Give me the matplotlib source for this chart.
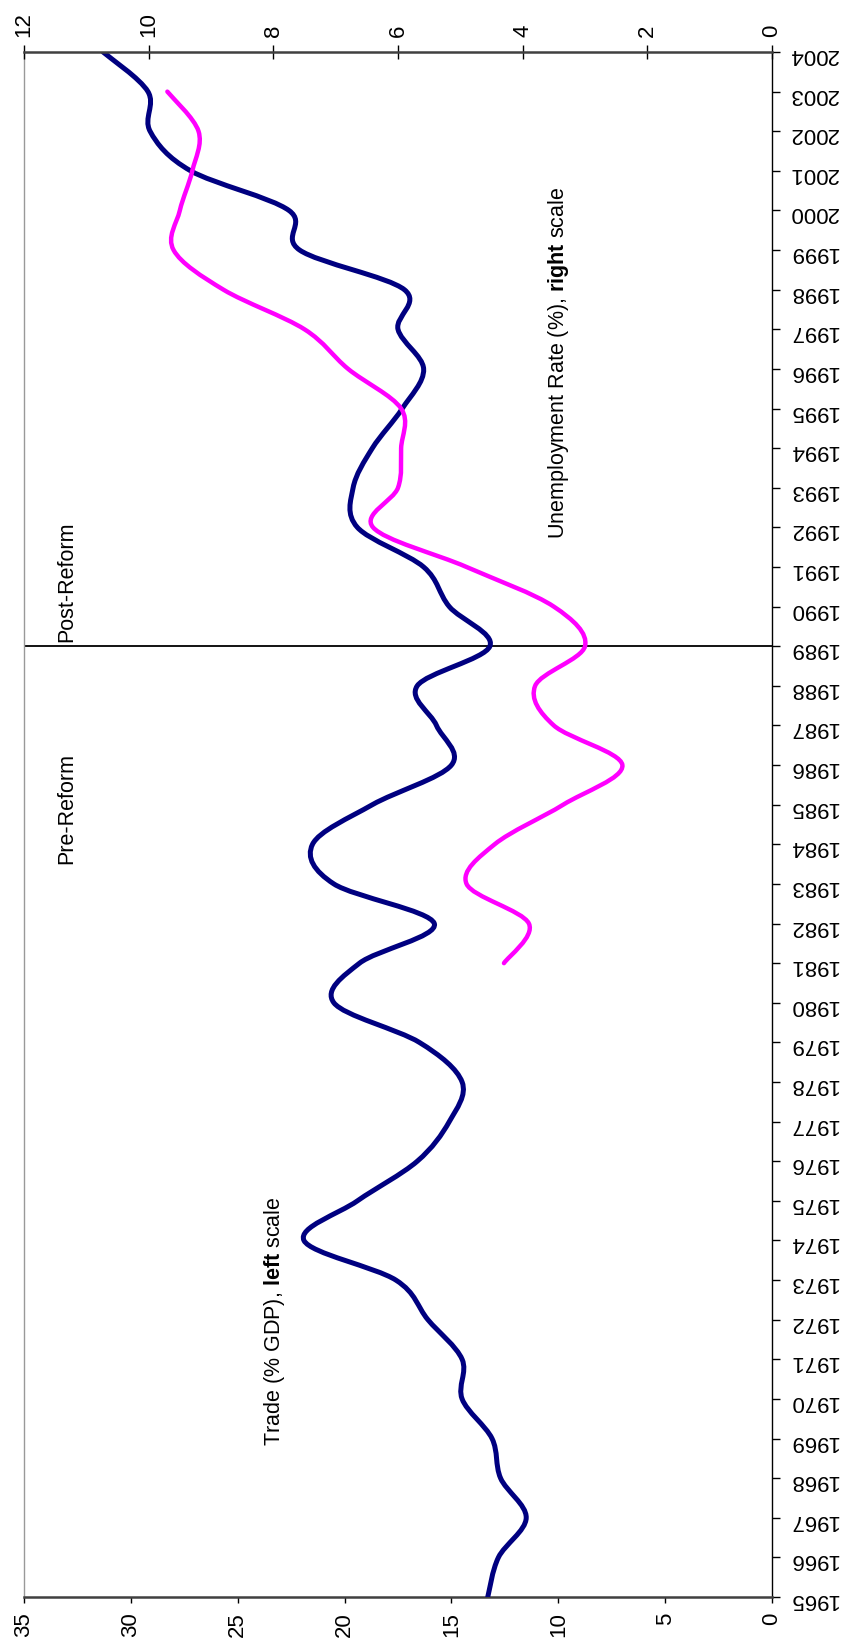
import numpy as np
import matplotlib
matplotlib.use("Agg")
import matplotlib.pyplot as plt
from matplotlib.path import Path
from matplotlib.patches import PathPatch

plt.rcParams.update({"font.family": "Liberation Sans", "font.size": 16,
    "mathtext.fontset": "custom", "mathtext.rm": "Liberation Sans",
    "mathtext.bf": "Liberation Sans:bold"})

# trade (% of GDP), left scale, 1965-2004
YEARS = list(range(1965, 2005))
TRADE = [13.3, 12.8, 11.5, 12.7, 13.1, 14.5, 14.5, 16.1, 17.6, 21.9,
         19.4, 16.6, 15.1, 14.5, 16.5, 20.5, 19.3, 15.8, 20.5, 21.5,
         18.7, 15.0, 15.7, 16.6, 13.2, 15.1, 16.3, 19.4, 19.6, 18.7,
         17.3, 16.3, 17.5, 17.2, 22.1, 22.6, 27.2, 29.1, 29.2, 31.3]
# unemployment rate (%), right scale, 1981-2003
UNEMP_YEARS = list(range(1981, 2004))
UNEMP = [4.3, 3.9, 4.9, 4.45, 3.35, 2.4, 3.5, 3.8, 3.0, 3.5, 4.9, 6.4,
         6.0, 5.95, 5.95, 6.8, 7.5, 8.8, 9.6, 9.5, 9.3, 9.2, 9.7]
REFORM_YEAR = 1989

TRADE_TICKS = list(range(0, 36, 5))
UNEMP_TICKS = list(range(0, 13, 2))


def smooth(xs, ys):
    # Excel-style smoothed line: Catmull-Rom segments as cubic Beziers
    p = np.column_stack([xs, ys]).astype(float)
    ext = np.vstack([p[0], p, p[-1]])
    verts, codes = [p[0]], [Path.MOVETO]
    for i in range(len(p) - 1):
        a, b, c, d = ext[i], ext[i + 1], ext[i + 2], ext[i + 3]
        verts += [b + (c - a) / 6, c - (d - b) / 6, c]
        codes += [Path.CURVE4] * 3
    return Path(verts, codes)


fig = plt.figure(figsize=(8.45, 16.51), dpi=100)
ax = fig.add_axes([0.0284, 0.0327, 0.8852, 0.9358])
ax2 = ax.twiny()

ax.axhline(REFORM_YEAR, color="black", lw=1.3, zorder=1)
ax.add_patch(PathPatch(smooth(TRADE, YEARS), fill=False, edgecolor="#000080",
                       lw=3.6, joinstyle="round", capstyle="round", zorder=3))
ax2.add_patch(PathPatch(smooth(UNEMP, UNEMP_YEARS), fill=False, edgecolor="#FF00FF",
                        lw=3.2, joinstyle="round", capstyle="round", zorder=3))

ax.set_xlim(35, 0)
ax.set_ylim(1965, 2004)
ax2.set_xlim(12, 0)

ax.set_xticks(TRADE_TICKS)
ax.tick_params(axis="x", direction="out", length=4, width=1, pad=7, labelrotation=90)
ax2.set_xticks(UNEMP_TICKS)
ax2.tick_params(axis="x", direction="inout", length=10, width=1, pad=6, labelrotation=90)

ax.yaxis.tick_right()
ax.set_yticks(YEARS)
ax.tick_params(axis="y", direction="out", length=6, width=1, pad=6, labelrotation=180)

for s in ["top", "bottom", "left", "right"]:
    ax2.spines[s].set_visible(False)
ax2.spines["top"].set_visible(True)
ax2.spines["top"].set_color("#404040"); ax2.spines["top"].set_linewidth(1.8)
ax.spines["top"].set_visible(False)
ax.spines["bottom"].set_color("#404040"); ax.spines["bottom"].set_linewidth(1.8)
ax.spines["left"].set_color("#999999"); ax.spines["left"].set_linewidth(1)
ax.spines["right"].set_color("black"); ax.spines["right"].set_linewidth(1)

kw = dict(rotation=90, ha="center", va="bottom", fontsize=15.5)
ax.text(33.0, 1989.1, "Post-Reform", **kw)
ax.text(33.0, 1983.5, "Pre-Reform", **kw)
ax.text(23.3, 1968.8, r"Trade (% GDP), $\mathbf{left}$ scale", **kw)
ax.text(10.0, 1991.7, r"Unemployment Rate (%), $\mathbf{right}$ scale", **kw)

fig.savefig("out.png", dpi=100)
